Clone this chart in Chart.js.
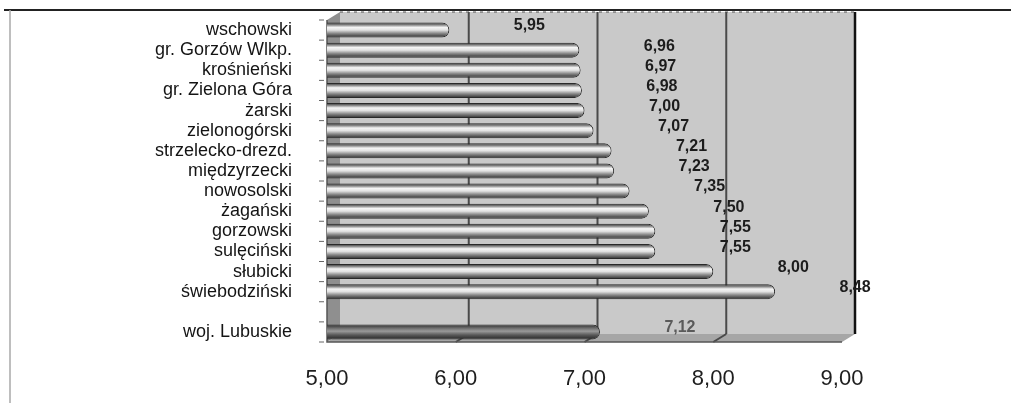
<!DOCTYPE html>
<html lang="pl">
<head>
<meta charset="utf-8">
<title>Wskaźnik według powiatów</title>
<script src="https://cdn.jsdelivr.net/npm/chart.js@4.4.1/dist/chart.umd.min.js"></script>
<style>
  html, body { margin: 0; padding: 0; background: #ffffff; }
  #wrap { position: relative; width: 1011px; height: 403px; }
</style>
</head>
<body>
<div id="wrap"><canvas id="chart" width="1011" height="403"></canvas></div>
<script>
// Powiaty (od góry), pusta pozycja oddziela średnią wojewódzką
const categories = [
  'wschowski', 'gr. Gorzów Wlkp.', 'krośnieński', 'gr. Zielona Góra', 'żarski',
  'zielonogórski', 'strzelecko-drezd.', 'międzyrzecki', 'nowosolski', 'żagański',
  'gorzowski', 'sulęciński', 'słubicki', 'świebodziński', '', 'woj. Lubuskie'
];
const values = [
  5.95, 6.96, 6.97, 6.98, 7.00,
  7.07, 7.21, 7.23, 7.35, 7.50,
  7.55, 7.55, 8.00, 8.48, null, 7.12
];
const axisMin = 5;
const axisMax = 9;
const axisStep = 1;
const wallGridValues = [6, 7, 8];

const fmt = v => v.toFixed(2).replace('.', ',');

// przesunięcie tylnej ściany (efekt 3D)
const DX = 13, DY = -8;
const BAR_PCT = 0.74;

function barGradient(ctx, yc, half, dark) {
  const g = ctx.createLinearGradient(0, yc - half, 0, yc + half);
  if (dark) {
    g.addColorStop(0, '#2c2c2c');
    g.addColorStop(0.25, '#6e6e6e');
    g.addColorStop(0.45, '#9a9a9a');
    g.addColorStop(0.7, '#5a5a5a');
    g.addColorStop(1, '#262626');
  } else {
    g.addColorStop(0, '#2e2e2e');
    g.addColorStop(0.14, '#7d7d7d');
    g.addColorStop(0.32, '#f5f5f5');
    g.addColorStop(0.5, '#e2e2e2');
    g.addColorStop(0.72, '#8a8a8a');
    g.addColorStop(1, '#2a2a2a');
  }
  return g;
}

const walls = {
  id: 'walls',
  beforeDatasetsDraw(chart) {
    const { ctx, chartArea: a, scales: { x } } = chart;
    ctx.save();
    // ramka strony
    ctx.strokeStyle = '#222';
    ctx.lineWidth = 2;
    ctx.beginPath(); ctx.moveTo(4, 10); ctx.lineTo(1011, 10); ctx.stroke();
    ctx.strokeStyle = '#a8a8a8';
    ctx.lineWidth = 1.5;
    ctx.beginPath(); ctx.moveTo(10, 10); ctx.lineTo(10, 403); ctx.stroke();

    const L = x.getPixelForValue(axisMin), R = x.getPixelForValue(axisMax);
    // tylna ściana
    ctx.fillStyle = '#c9c9c9';
    ctx.fillRect(L + DX, a.top + DY, R - L, a.bottom - a.top);
    // lewa ściana boczna
    ctx.fillStyle = '#8f8f8f';
    ctx.beginPath();
    ctx.moveTo(L, a.top); ctx.lineTo(L + DX, a.top + DY);
    ctx.lineTo(L + DX, a.bottom + DY); ctx.lineTo(L, a.bottom);
    ctx.closePath(); ctx.fill();
    // podłoga
    ctx.fillStyle = '#a6a6a6';
    ctx.beginPath();
    ctx.moveTo(L, a.bottom); ctx.lineTo(L + DX, a.bottom + DY);
    ctx.lineTo(R + DX, a.bottom + DY); ctx.lineTo(R, a.bottom);
    ctx.closePath(); ctx.fill();

    // linie siatki na tylnej ścianie
    ctx.strokeStyle = '#4a4a4a';
    ctx.lineWidth = 2;
    wallGridValues.forEach(v => {
      const px = x.getPixelForValue(v) + DX;
      ctx.beginPath(); ctx.moveTo(px, a.top + DY); ctx.lineTo(px, a.bottom + DY); ctx.stroke();
      ctx.beginPath(); ctx.moveTo(px, a.bottom + DY); ctx.lineTo(px - DX, a.bottom); ctx.stroke();
    });
    // prawa krawędź ściany
    ctx.strokeStyle = '#111';
    ctx.lineWidth = 2.5;
    ctx.beginPath(); ctx.moveTo(R + DX, a.top + DY); ctx.lineTo(R + DX, a.bottom + DY); ctx.stroke();
    // górna krawędź ściany
    ctx.strokeStyle = '#555';
    ctx.lineWidth = 1;
    ctx.setLineDash([3, 4]);
    ctx.beginPath(); ctx.moveTo(L + DX, a.top + DY); ctx.lineTo(R + DX, a.top + DY); ctx.stroke();
    ctx.setLineDash([]);
    // przednia krawędź osi i podłogi
    ctx.strokeStyle = '#555';
    ctx.lineWidth = 1.5;
    ctx.beginPath(); ctx.moveTo(L, a.top); ctx.lineTo(L, a.bottom); ctx.lineTo(R, a.bottom); ctx.stroke();
    // znaczniki osi kategorii
    const n = categories.length;
    const slot = (a.bottom - a.top) / n;
    ctx.strokeStyle = '#666';
    ctx.lineWidth = 1;
    for (let i = 0; i <= n; i++) {
      const py = a.top + i * slot;
      ctx.beginPath(); ctx.moveTo(L - 8, py); ctx.lineTo(L - 3, py); ctx.stroke();
    }
    ctx.restore();
  }
};

const valueLabels = {
  id: 'valueLabels',
  afterDatasetsDraw(chart) {
    const { ctx } = chart;
    const meta = chart.getDatasetMeta(0);
    ctx.save();
    ctx.font = 'bold 16px "Liberation Sans", Arial, sans-serif';
    ctx.textAlign = 'center';
    ctx.textBaseline = 'middle';
    meta.data.forEach((el, i) => {
      const v = values[i];
      if (v == null) return;
      ctx.fillStyle = i === values.length - 1 ? '#5a5a5a' : '#1c1c1c';
      ctx.fillText(fmt(v), el.x + 80, el.y - 4);
    });
    ctx.restore();
  }
};

new Chart(document.getElementById('chart'), {
  type: 'bar',
  data: {
    labels: categories,
    datasets: [{
      data: values,
      backgroundColor(c) {
        const ch = c.chart;
        const dark = c.dataIndex === values.length - 1;
        if (!ch.chartArea || !ch.scales.y) return dark ? '#555' : '#bbb';
        const y = ch.scales.y;
        const yc = y.getPixelForValue(c.dataIndex);
        const half = (ch.chartArea.bottom - ch.chartArea.top) / categories.length * BAR_PCT / 2;
        return barGradient(ch.ctx, yc, half, dark);
      },
      borderColor: '#2a2a2a',
      borderWidth: 1,
      borderRadius: 7,
      borderSkipped: 'start',
      barPercentage: BAR_PCT,
      categoryPercentage: 1.0
    }]
  },
  options: {
    indexAxis: 'y',
    responsive: false,
    animation: false,
    layout: { padding: { top: 20, right: 169, bottom: 11, left: 0 } },
    plugins: { legend: { display: false }, tooltip: { enabled: false } },
    scales: {
      x: {
        type: 'linear',
        min: axisMin,
        max: axisMax,
        grid: { display: false },
        border: { display: false },
        afterFit(scale) { scale.height = 50; },
        ticks: {
          stepSize: axisStep,
          padding: 16,
          maxRotation: 0,
          color: '#1e1e1e',
          font: { family: '"Liberation Sans", Arial, sans-serif', size: 22 },
          callback: v => fmt(v)
        }
      },
      y: {
        grid: { display: false },
        border: { display: false },
        afterFit(scale) {
          scale.width = 327;
          scale.paddingTop = 0;
          scale.paddingBottom = 0;
        },
        ticks: {
          padding: 27,
          color: '#141414',
          autoSkip: false,
          font: { family: '"Liberation Sans", Arial, sans-serif', size: 18 }
        }
      }
    }
  },
  plugins: [walls, valueLabels]
});
</script>
</body>
</html>
